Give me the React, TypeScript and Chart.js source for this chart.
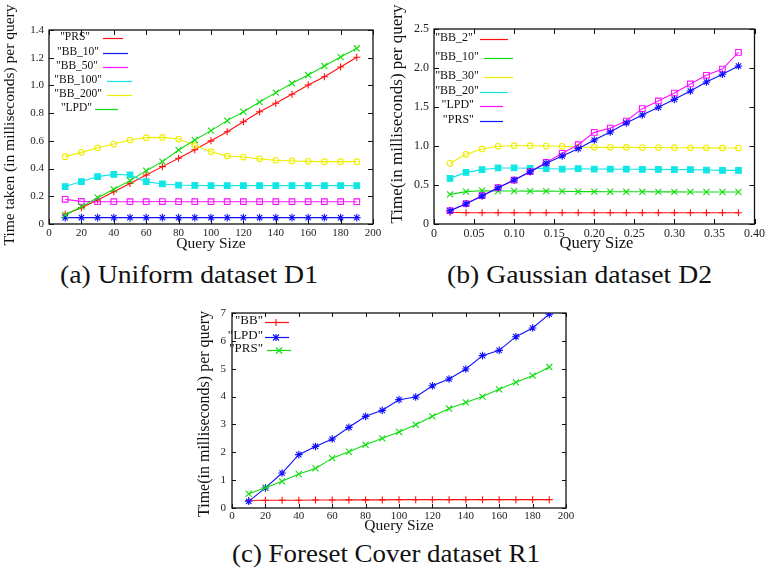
import React, { useEffect, useRef } from 'react';
import { Chart, registerables } from 'chart.js';
Chart.register(...registerables);

const SERIF = "'Liberation Serif', 'DejaVu Serif', serif";
const RED = '#ff1010';
const GREEN = '#10dd10';
const BLUE = '#1010ff';
const MAGENTA = '#ff10ff';
const CYAN = '#10e6e6';
const YELLOW = '#eeee00';

// ---------- (a) Uniform dataset D1 ----------
const aQuerySizes = [10, 20, 30, 40, 50, 60, 70, 80, 90, 100, 110, 120, 130, 140, 150, 160, 170, 180, 190];
const aPRS = [0.07, 0.118, 0.173, 0.233, 0.293, 0.354, 0.414, 0.474, 0.536, 0.6, 0.666, 0.738, 0.81, 0.871, 0.936, 1.003, 1.063, 1.133, 1.203];
const aBB10 = [0.046, 0.046, 0.046, 0.046, 0.046, 0.046, 0.046, 0.046, 0.046, 0.046, 0.046, 0.046, 0.046, 0.046, 0.046, 0.046, 0.046, 0.046, 0.046];
const aBB50 = [0.178, 0.163, 0.161, 0.161, 0.161, 0.161, 0.162, 0.161, 0.161, 0.161, 0.161, 0.161, 0.161, 0.161, 0.161, 0.161, 0.161, 0.161, 0.161];
const aBB100 = [0.27, 0.306, 0.342, 0.358, 0.354, 0.306, 0.289, 0.281, 0.278, 0.277, 0.277, 0.277, 0.277, 0.277, 0.277, 0.277, 0.277, 0.277, 0.277];
const aBB200 = [0.486, 0.517, 0.55, 0.577, 0.606, 0.623, 0.625, 0.613, 0.567, 0.522, 0.49, 0.483, 0.47, 0.46, 0.455, 0.452, 0.45, 0.45, 0.45];
const aLPD = [0.065, 0.125, 0.19, 0.25, 0.313, 0.385, 0.45, 0.534, 0.606, 0.674, 0.746, 0.81, 0.88, 0.948, 1.015, 1.075, 1.14, 1.205, 1.268];

// ---------- (b) Gaussian dataset D2 ----------
const bQuerySizes = [0.02, 0.04, 0.06, 0.08, 0.1, 0.12, 0.14, 0.16, 0.18, 0.2, 0.22, 0.24, 0.26, 0.28, 0.3, 0.32, 0.34, 0.36, 0.38];
const bBB2 = [0.15, 0.145, 0.145, 0.145, 0.145, 0.145, 0.145, 0.145, 0.145, 0.145, 0.145, 0.145, 0.145, 0.145, 0.145, 0.145, 0.145, 0.145, 0.145];
const bBB10 = [0.38, 0.415, 0.427, 0.423, 0.423, 0.422, 0.421, 0.42, 0.415, 0.415, 0.414, 0.413, 0.413, 0.412, 0.412, 0.411, 0.41, 0.41, 0.41];
const bBB30 = [0.778, 0.893, 0.962, 0.996, 1.004, 1.004, 1.0, 0.996, 0.987, 0.983, 0.983, 0.982, 0.981, 0.98, 0.978, 0.977, 0.976, 0.975, 0.974];
const bBB20 = [0.585, 0.662, 0.697, 0.718, 0.718, 0.714, 0.709, 0.705, 0.709, 0.705, 0.703, 0.702, 0.701, 0.7, 0.698, 0.697, 0.692, 0.688, 0.688];
const bLPD = [0.171, 0.26, 0.363, 0.466, 0.564, 0.671, 0.79, 0.906, 1.017, 1.175, 1.23, 1.32, 1.479, 1.577, 1.679, 1.795, 1.906, 1.987, 2.2];
const bPRS = [0.17, 0.26, 0.36, 0.465, 0.565, 0.67, 0.78, 0.872, 0.966, 1.077, 1.179, 1.295, 1.397, 1.496, 1.598, 1.705, 1.82, 1.919, 2.026];

// ---------- (c) Foreset Cover dataset R1 ----------
const cQuerySizes = [10, 20, 30, 40, 50, 60, 70, 80, 90, 100, 110, 120, 130, 140, 150, 160, 170, 180, 190];
const cBB = [0.27, 0.28, 0.28, 0.28, 0.285, 0.285, 0.29, 0.29, 0.29, 0.3, 0.3, 0.3, 0.3, 0.3, 0.3, 0.3, 0.3, 0.3, 0.3];
const cLPD = [0.24, 0.72, 1.256, 1.915, 2.21, 2.477, 2.896, 3.29, 3.506, 3.889, 3.985, 4.39, 4.63, 4.99, 5.47, 5.66, 6.15, 6.46, 6.96];
const cPRS = [0.51, 0.73, 0.957, 1.22, 1.42, 1.79, 2.02, 2.27, 2.5, 2.73, 2.99, 3.29, 3.57, 3.79, 4.0, 4.26, 4.51, 4.75, 5.06];

type Marker = 'cross' | 'crossRot' | 'star' | 'rect' | 'rectOpen' | 'circle';

function series(label: string, xs: number[], ys: number[], color: string, marker: Marker, idx: number) {
  const open = marker === 'rectOpen' || marker === 'circle';
  const radius: Record<Marker, number> = { cross: 3.5, crossRot: 4.3, star: 3.8, rect: 4, rectOpen: 4, circle: 2.8 };
  return {
    label,
    data: xs.map((x, i) => ({ x, y: ys[i] })),
    borderColor: color,
    backgroundColor: color,
    borderWidth: 1.1,
    pointStyle: marker === 'rectOpen' ? 'rect' : marker,
    pointRadius: radius[marker],
    pointBorderColor: color,
    pointBackgroundColor: open ? 'rgba(255,255,255,0)' : color,
    pointBorderWidth: 1.1,
    tension: 0,
    order: 100 - idx,
  };
}

type LegendEntry = { label: string; color: string; tr: number; x1: number; x2: number; y: number; marker?: Marker; mx?: number };
type Deco = {
  ox: number; oy: number;
  tickLen: number;
  xTitle: { text: string; x: number; y: number; size: number };
  yTitle: { text: string; x: number; y: number; size: number };
  legend: LegendEntry[];
  legendSize: number;
};

function drawMarker(ctx: CanvasRenderingContext2D, m: Marker, x: number, y: number, color: string) {
  ctx.save();
  ctx.strokeStyle = color;
  ctx.fillStyle = color;
  ctx.lineWidth = 1.1;
  ctx.beginPath();
  if (m === 'cross' || m === 'star') {
    ctx.moveTo(x - 3.5, y); ctx.lineTo(x + 3.5, y);
    ctx.moveTo(x, y - 3.5); ctx.lineTo(x, y + 3.5);
  }
  if (m === 'crossRot' || m === 'star') {
    ctx.moveTo(x - 3, y - 3); ctx.lineTo(x + 3, y + 3);
    ctx.moveTo(x - 3, y + 3); ctx.lineTo(x + 3, y - 3);
  }
  ctx.stroke();
  ctx.restore();
}

const gpDeco = {
  id: 'gpDeco',
  beforeDatasetsDraw(chart: any, _args: any, opts: Deco) {
    const { ctx, chartArea } = chart;
    const { left, right, top, bottom } = chartArea;
    ctx.save();
    ctx.strokeStyle = '#111';
    ctx.lineWidth = 1.3;
    ctx.strokeRect(left, top, right - left, bottom - top);
    ctx.lineWidth = 1;
    const L = opts.tickLen;
    const xs = chart.scales.x;
    xs.ticks.forEach((t: any) => {
      const px = Math.round(xs.getPixelForValue(t.value)) + 0.5;
      ctx.beginPath();
      ctx.moveTo(px, bottom); ctx.lineTo(px, bottom - L);
      ctx.moveTo(px, top); ctx.lineTo(px, top + L);
      ctx.stroke();
    });
    const ys = chart.scales.y;
    ys.ticks.forEach((t: any) => {
      const py = Math.round(ys.getPixelForValue(t.value)) + 0.5;
      ctx.beginPath();
      ctx.moveTo(left, py); ctx.lineTo(left + L, py);
      ctx.moveTo(right, py); ctx.lineTo(right - L, py);
      ctx.stroke();
    });
    ctx.restore();
  },
  afterDraw(chart: any, _args: any, opts: Deco) {
    const { ctx } = chart;
    const ox = opts.ox, oy = opts.oy;
    ctx.save();
    ctx.fillStyle = '#111';
    // x title
    ctx.font = `${opts.xTitle.size}px ${SERIF}`;
    ctx.textAlign = 'center';
    ctx.textBaseline = 'alphabetic';
    ctx.fillText(opts.xTitle.text, opts.xTitle.x - ox, opts.xTitle.y - oy);
    // y title
    ctx.save();
    ctx.translate(opts.yTitle.x - ox, opts.yTitle.y - oy);
    ctx.rotate(-Math.PI / 2);
    ctx.font = `${opts.yTitle.size}px ${SERIF}`;
    ctx.textAlign = 'center';
    ctx.textBaseline = 'middle';
    ctx.fillText(opts.yTitle.text, 0, 0);
    ctx.restore();
    // legend
    ctx.font = `${opts.legendSize}px ${SERIF}`;
    ctx.textAlign = 'right';
    ctx.textBaseline = 'middle';
    opts.legend.forEach((e) => {
      ctx.fillStyle = '#111';
      ctx.fillText(e.label, e.tr - ox, e.y - oy);
      ctx.strokeStyle = e.color;
      ctx.lineWidth = 1.2;
      ctx.beginPath();
      ctx.moveTo(e.x1 - ox, e.y - oy + 1.5);
      ctx.lineTo(e.x2 - ox, e.y - oy + 1.5);
      ctx.stroke();
      if (e.marker) drawMarker(ctx, e.marker, (e.mx ?? (e.x1 + e.x2) / 2) - ox, e.y - oy + 1.5, e.color);
    });
    ctx.restore();
  },
};

type ChartCfg = {
  box: { left: number; top: number; width: number; height: number };
  area: { left: number; top: number; right: number; bottom: number };
  datasets: any[];
  x: { min: number; max: number; step: number; size: number; pad: number };
  y: { min: number; max: number; step: number; size: number; pad: number };
  deco: Deco;
};

function GnuplotChart({ cfg }: { cfg: ChartCfg }) {
  const ref = useRef<HTMLCanvasElement>(null);
  useEffect(() => {
    if (!ref.current) return;
    const { box, area } = cfg;
    const wy = area.left - box.left;
    const padT = area.top - box.top;
    const padR = box.left + box.width - area.right;
    const hx = box.top + box.height - area.bottom;
    const chart = new Chart(ref.current, {
      type: 'line',
      data: { datasets: cfg.datasets },
      options: {
        animation: false,
        responsive: false,
        maintainAspectRatio: false,
        layout: { padding: { left: 0, top: padT, right: padR, bottom: 0 } },
        plugins: {
          legend: { display: false },
          tooltip: { enabled: false },
          gpDeco: cfg.deco,
        } as any,
        scales: {
          x: {
            type: 'linear',
            min: cfg.x.min,
            max: cfg.x.max,
            grid: { display: false, drawTicks: false },
            border: { display: false },
            ticks: {
              stepSize: cfg.x.step,
              autoSkip: false,
              maxRotation: 0,
              padding: cfg.x.pad,
              color: '#222',
              font: { family: SERIF, size: cfg.x.size },
            },
            afterFit: (s: any) => { s.height = hx; },
          },
          y: {
            type: 'linear',
            min: cfg.y.min,
            max: cfg.y.max,
            grid: { display: false, drawTicks: false },
            border: { display: false },
            ticks: {
              stepSize: cfg.y.step,
              autoSkip: false,
              padding: cfg.y.pad,
              color: '#222',
              font: { family: SERIF, size: cfg.y.size },
            },
            afterFit: (s: any) => { s.width = wy; },
          },
        },
      } as any,
      plugins: [gpDeco as any],
    });
    return () => chart.destroy();
  }, [cfg]);
  const { box } = cfg;
  return (
    <canvas
      ref={ref}
      width={box.width}
      height={box.height}
      style={{ position: 'absolute', left: box.left, top: box.top, width: box.width, height: box.height }}
    />
  );
}

function measure(text: string, font: string) {
  const c = document.createElement('canvas').getContext('2d');
  if (!c) return 1;
  c.font = font;
  return c.measureText(text).width || 1;
}

function Caption({ text, left, width, baseline, size }: { text: string; left: number; width: number; baseline: number; size: number }) {
  const font = `${size}px ${SERIF}`;
  const w = measure(text, font);
  const sx = width / w;
  return (
    <div
      style={{
        position: 'absolute',
        left,
        top: baseline - size * 0.837,
        fontFamily: SERIF,
        fontSize: size,
        lineHeight: `${size}px`,
        whiteSpace: 'nowrap',
        color: '#111',
        transform: `scaleX(${sx})`,
        transformOrigin: 'left top',
      }}
    >
      {text}
    </div>
  );
}

const cfgA: ChartCfg = {
  box: { left: 0, top: 0, width: 385, height: 256 },
  area: { left: 49, top: 30, right: 373, bottom: 224 },
  datasets: [
    series('"PRS"', aQuerySizes, aPRS, RED, 'cross', 0),
    series('"BB_10"', aQuerySizes, aBB10, BLUE, 'star', 1),
    series('"BB_50"', aQuerySizes, aBB50, MAGENTA, 'rectOpen', 2),
    series('"BB_100"', aQuerySizes, aBB100, CYAN, 'rect', 3),
    series('"BB_200"', aQuerySizes, aBB200, YELLOW, 'circle', 4),
    series('"LPD"', aQuerySizes, aLPD, GREEN, 'crossRot', 5),
  ],
  x: { min: 0, max: 200, step: 20, size: 11, pad: 3 },
  y: { min: 0, max: 1.4, step: 0.2, size: 11, pad: 5 },
  deco: {
    ox: 0, oy: 0, tickLen: 5,
    xTitle: { text: 'Query Size', x: 211, y: 248, size: 15.5 },
    yTitle: { text: 'Time taken (in milliseconds) per query', x: 10, y: 125, size: 15.5 },
    legendSize: 11.5,
    legend: [
      { label: '"PRS"', color: RED, tr: 90, x1: 103, x2: 123, y: 37 },
      { label: '"BB_10"', color: BLUE, tr: 99, x1: 103, x2: 128, y: 52 },
      { label: '"BB_50"', color: MAGENTA, tr: 98, x1: 103, x2: 128, y: 66 },
      { label: '"BB_100"', color: CYAN, tr: 102, x1: 107, x2: 132, y: 80 },
      { label: '"BB_200"', color: YELLOW, tr: 102, x1: 107, x2: 132, y: 94 },
      { label: '"LPD"', color: GREEN, tr: 92, x1: 95, x2: 118, y: 108 },
    ],
  },
};

const cfgB: ChartCfg = {
  box: { left: 385, top: 0, width: 383, height: 256 },
  area: { left: 434, top: 29, right: 759, bottom: 224 },
  datasets: [
    series('"BB_2"', bQuerySizes, bBB2, RED, 'cross', 0),
    series('"BB_10"', bQuerySizes, bBB10, GREEN, 'crossRot', 1),
    series('"BB_30"', bQuerySizes, bBB30, YELLOW, 'circle', 2),
    series('"BB_20"', bQuerySizes, bBB20, CYAN, 'rect', 3),
    series('"LPD"', bQuerySizes, bLPD, MAGENTA, 'rectOpen', 4),
    series('"PRS"', bQuerySizes, bPRS, BLUE, 'star', 5),
  ],
  x: { min: 0, max: 0.4, step: 0.05, size: 12, pad: 3 },
  y: { min: 0, max: 2.5, step: 0.5, size: 12, pad: 5 },
  deco: {
    ox: 385, oy: 0, tickLen: 5,
    xTitle: { text: 'Query Size', x: 596.5, y: 248, size: 16.5 },
    yTitle: { text: 'Time(in milliseconds) per query', x: 398, y: 114, size: 17 },
    legendSize: 12,
    legend: [
      { label: '"BB_2"', color: RED, tr: 473, x1: 480, x2: 508, y: 38 },
      { label: '"BB_10"', color: GREEN, tr: 479, x1: 484, x2: 513, y: 57 },
      { label: '"BB_30"', color: YELLOW, tr: 479, x1: 484, x2: 513, y: 76 },
      { label: '"BB_20"', color: CYAN, tr: 479, x1: 480, x2: 508, y: 91 },
      { label: '"LPD"', color: MAGENTA, tr: 474, x1: 480, x2: 503, y: 105 },
      { label: '"PRS"', color: BLUE, tr: 474, x1: 480, x2: 503, y: 120 },
    ],
  },
};

const cfgC: ChartCfg = {
  box: { left: 185, top: 290, width: 400, height: 248 },
  area: { left: 232, top: 313, right: 566, bottom: 508 },
  datasets: [
    series('"BB"', cQuerySizes, cBB, RED, 'cross', 0),
    series('"LPD"', cQuerySizes, cLPD, BLUE, 'star', 1),
    series('"PRS"', cQuerySizes, cPRS, GREEN, 'crossRot', 2),
  ],
  x: { min: 0, max: 200, step: 20, size: 11, pad: 2 },
  y: { min: 0, max: 7, step: 1, size: 11, pad: 6 },
  deco: {
    ox: 185, oy: 290, tickLen: 4,
    xTitle: { text: 'Query Size', x: 399, y: 530, size: 15.5 },
    yTitle: { text: 'Time(in milliseconds) per query', x: 205, y: 414, size: 16 },
    legendSize: 13,
    legend: [
      { label: '"BB"', color: RED, tr: 263, x1: 265, x2: 289, y: 321, marker: 'cross', mx: 276 },
      { label: '"LPD"', color: BLUE, tr: 263, x1: 265, x2: 289, y: 336, marker: 'star', mx: 276 },
      { label: '"PRS"', color: GREEN, tr: 263, x1: 267, x2: 291, y: 349, marker: 'crossRot', mx: 279 },
    ],
  },
};

export default function App() {
  return (
    <div style={{ position: 'fixed', left: 0, top: 0, width: 768, height: 577, background: '#fff', overflow: 'hidden' }}>
      <GnuplotChart cfg={cfgA} />
      <GnuplotChart cfg={cfgB} />
      <GnuplotChart cfg={cfgC} />
      <Caption text="(a) Uniform dataset D1" left={60} width={258} baseline={283} size={25} />
      <Caption text="(b) Gaussian dataset D2" left={447} width={265} baseline={283} size={25} />
      <Caption text="(c) Foreset Cover dataset R1" left={232} width={308} baseline={563} size={24.5} />
    </div>
  );
}
